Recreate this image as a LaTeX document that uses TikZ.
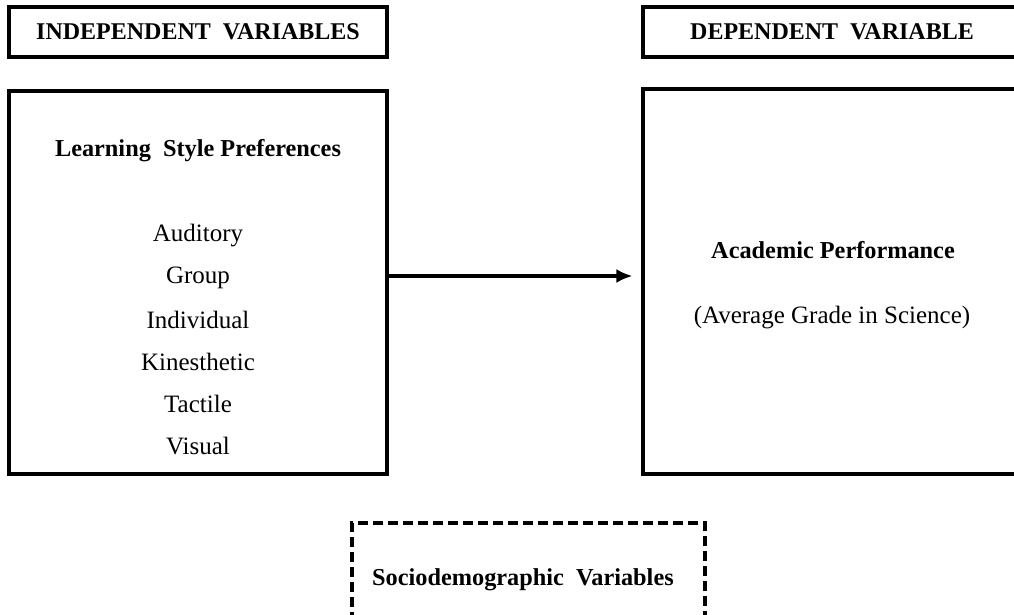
\documentclass[tikz,border=0pt]{standalone}
\usepackage{fontspec}
\setmainfont{Liberation Serif}
\usepackage{tikz}
\usetikzlibrary{positioning,arrows.meta}

\begin{document}
\begin{tikzpicture}[x=1pt, y=-1pt,
  headbox/.style={draw, line width=3.1pt, minimum width=378pt, minimum height=50pt,
    inner sep=0pt, font=\fontsize{24}{28}\selectfont\bfseries},
  bigbox/.style={draw, line width=3.1pt, minimum width=378pt, inner sep=0pt},
  item/.style={font=\fontsize{25}{30}\selectfont, inner sep=0pt},
  title/.style={font=\fontsize{24.3}{30}\selectfont\bfseries, inner sep=0pt}
  ]
  \clip (0,0) rectangle (1014,615);
  \fill[white] (0,0) rectangle (1014,615);

  \node[headbox] (indep) at (198,32) {INDEPENDENT\ \ VARIABLES};
  \node[headbox] (dep) at (832,32) {DEPENDENT\ \ VARIABLE};

  \node[bigbox, minimum height=383pt] (lsp) at (198,282.5) {};
  \node[bigbox, minimum height=385pt] (perf) at (832,281.5) {};

  \node[title] (lsptitle) at (198,151) {Learning\ \ Style Preferences};
  \foreach \name/\txt [count=\i] in {aud/Auditory, grp/Group, ind/Individual,
      kin/Kinesthetic, tac/Tactile, vis/Visual}
    \node[item] (\name) at (198,{235.5+42.2*(\i-1)}) {\txt};

  \node[title] (perftitle) at (833,250) {Academic Performance};
  \node[item] (grade) at (832,318) {(Average Grade in Science)};

  \draw[line width=3.1pt, -{Latex[length=16pt,width=14pt]}, shorten >=9pt]
    ([yshift=6.5pt]lsp.east) -- ([yshift=6.5pt]lsp.east -| perf.west);

  \node[draw, line width=3.1pt, dash pattern=on 10pt off 5pt, minimum width=353pt,
    minimum height=150pt, inner sep=0pt] (socio) at (528.5,598) {};
  \node[title, anchor=west] (sociotitle) at (372,580) {Sociodemographic\ \ Variables};
\end{tikzpicture}
\end{document}
